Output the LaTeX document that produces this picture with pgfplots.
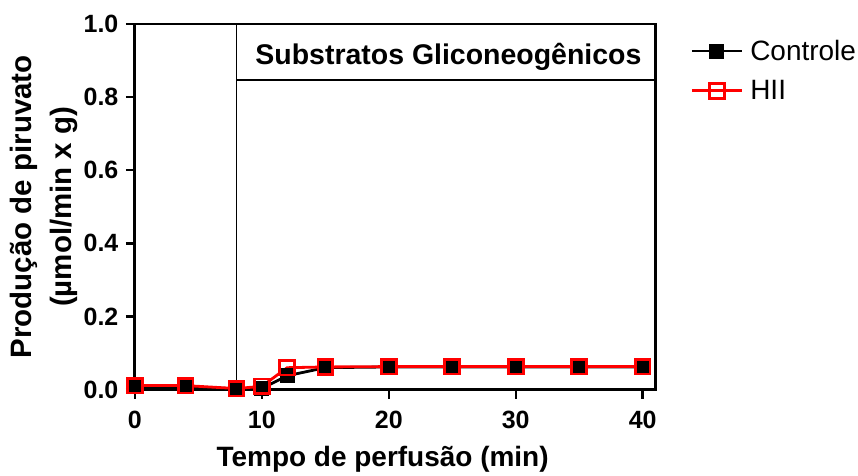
\documentclass[border=0pt]{standalone}
\usepackage{pgfplots}
\pgfplotsset{compat=1.18}
\usepackage{fontspec}
\setmainfont{Liberation Sans}

\pgfplotstableread{
t     y
0     0.008
4     0.008
8     0.002
10    0.003
12    0.038
15    0.060
20    0.062
25    0.062
30    0.062
35    0.062
40    0.062
}\controle

\pgfplotstableread{
t     y
0     0.011
4     0.011
8     0.003
10    0.009
12    0.060
15    0.062
20    0.063
25    0.063
30    0.063
35    0.063
40    0.063
}\hii

\begin{document}
\begin{tikzpicture}
\begin{axis}[
  scale only axis,
  width=521pt, height=366pt,
  xmin=0, xmax=41, ymin=0, ymax=1,
  xtick={0,10,20,30,40},
  ytick={0,0.2,0.4,0.6,0.8,1.0},
  yticklabel style={/pgf/number format/fixed,
    /pgf/number format/fixed zerofill,
    /pgf/number format/precision=1, xshift=-4pt},
  /pgf/number format/assume math mode=true,
  tick align=outside,
  xtick pos=bottom, ytick pos=left,
  major tick length=9pt,
  every tick/.style={black, line width=2.4pt},
  axis line style={line width=2.8pt},
  ticklabel style={font=\bfseries\fontsize{25}{28}\selectfont},
  xticklabel style={yshift=-9pt},
  xlabel={Tempo de perfusão (min)},
  ylabel={Produção de piruvato\\(µmol/min x g)},
  label style={font=\bfseries\fontsize{28}{35}\selectfont, align=center},
  xlabel style={at={(axis description cs:0.476,-0.2104)}, anchor=base},
  ylabel style={at={(axis description cs:-0.1031,0.5)}, anchor=south,
    font=\bfseries\fontsize{29.5}{40}\selectfont},
  clip=false,
  legend style={at={(1,1)}, anchor=north west, xshift=35pt, yshift=-14pt,
    draw=none, fill=none, font=\fontsize{28}{30}\selectfont,
    row sep=14.5pt, column sep=5pt, inner sep=0pt},
  legend cell align=left,
  legend image code/.code={
    \draw[mark repeat=2, mark phase=2]
      plot coordinates {(0pt,0pt) (25pt,0pt) (50pt,0pt)};
  },
]
  % white margin above and to the left of the figure
  \path (rel axis cs:0,1) -- ++(0pt,24pt);
  \path (rel axis cs:0,0.5) -- ++(-135pt,0pt);

  % period marker and the substrate box
  \draw[line width=1.4pt] (axis cs:8,0) -- (axis cs:8,1);
  \draw[line width=1.4pt] (axis cs:8,0.847) -- (axis cs:41,0.847);
  \node[font=\bfseries\fontsize{28.5}{32}\selectfont]
    at (axis cs:24.7,0.911) {Substratos Gliconeogênicos};

  \addplot[black, line width=2.8pt, mark=square*, mark size=7pt,
    mark options={solid, fill=black, line width=1pt}]
    table[x=t, y=y] {\controle};
  \addlegendentry{Controle}

  \addplot[red, line width=2.8pt, mark=square, mark size=7.4pt,
    mark options={solid, line width=2.8pt}]
    table[x=t, y=y] {\hii};
  \addlegendentry{HII}
\end{axis}
\end{tikzpicture}
\end{document}
